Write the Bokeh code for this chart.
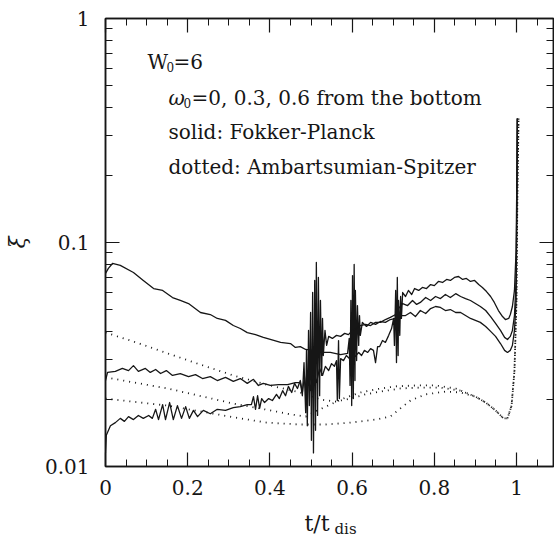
from bokeh.plotting import figure
from bokeh.models import Label, LinearAxis, LogAxis, FixedTicker, Range1d
from bokeh.layouts import column
from bokeh.embed import file_html
from bokeh.resources import INLINE

# ---------------- data ----------------
x_ticks = [0, 0.2, 0.4, 0.6, 0.8, 1.0]
x_tick_labels = ["0", "0.2", "0.4", "0.6", "0.8", "1"]
x_minor = [0.05, 0.1, 0.15, 0.25, 0.3, 0.35, 0.45, 0.5, 0.55, 0.65, 0.7, 0.75,
           0.85, 0.9, 0.95, 1.05]
y_ticks = [0.01, 0.1, 1.0]
y_tick_labels = ["0.01", "0.1", "1"]
y_minor = [0.02, 0.03, 0.04, 0.05, 0.06, 0.07, 0.08, 0.09,
           0.2, 0.3, 0.4, 0.5, 0.6, 0.7, 0.8, 0.9]

# Fokker-Planck (solid) curves
fp_a_t = [0, 0.007, 0.017, 0.036, 0.068, 0.092, 0.117, 0.139, 0.163, 0.182, 0.202, 0.231,
          0.255, 0.272, 0.292, 0.311, 0.328, 0.345, 0.365, 0.384, 0.401, 0.426, 0.450, 0.462,
          0.474, 0.487, 0.504, 0.523, 0.547, 0.572, 0.589,
          0.593, 0.595, 0.597, 0.599, 0.601, 0.603, 0.605, 0.607, 0.608, 0.611, 0.613, 0.616,
          0.618, 0.620, 0.625, 0.635, 0.645, 0.657, 0.669, 0.681, 0.693, 0.706, 0.718,
          0.730, 0.742, 0.754, 0.766, 0.779, 0.791, 0.803, 0.815, 0.827, 0.839, 0.852, 0.864,
          0.876, 0.888, 0.900, 0.912, 0.925, 0.937, 0.949, 0.961, 0.971, 0.978, 0.985, 0.990,
          0.995, 0.999, 1.001, 1.002]
fp_a_xi = [0.0727, 0.0766, 0.0806, 0.0790, 0.0735, 0.0677, 0.0623, 0.0611, 0.0568, 0.0551, 0.0534, 0.0487,
           0.0477, 0.0458, 0.0449, 0.0426, 0.0413, 0.0396, 0.0388, 0.0377, 0.0369, 0.0358, 0.0354, 0.0340,
           0.0343, 0.0333, 0.0330, 0.0323, 0.0323, 0.0316, 0.0320,
           0.0373, 0.0230, 0.0551, 0.0187, 0.0712, 0.0201, 0.0798, 0.0242, 0.0611, 0.0297, 0.0523, 0.0347,
           0.0472, 0.0385, 0.0440, 0.0422, 0.0440, 0.0431, 0.0444, 0.0440, 0.0453, 0.0458, 0.0472,
           0.0472, 0.0487, 0.0467, 0.0497, 0.0482, 0.0507, 0.0518, 0.0513, 0.0497, 0.0502, 0.0487, 0.0487,
           0.0472, 0.0458, 0.0449, 0.0440, 0.0422, 0.0401, 0.0381, 0.0354, 0.0330, 0.0323, 0.0330, 0.0347,
           0.0405, 0.0551, 0.154, 0.358]

fp_b_t = [0, 0.005, 0.024, 0.041, 0.056, 0.068, 0.080, 0.097, 0.109, 0.122, 0.134, 0.148, 0.163,
          0.182, 0.202, 0.219, 0.236, 0.255, 0.272, 0.292, 0.311, 0.328, 0.345, 0.360, 0.372,
          0.384, 0.401, 0.421, 0.443, 0.462, 0.474,
          0.479, 0.483, 0.487, 0.489, 0.491, 0.494, 0.496, 0.499, 0.501, 0.504, 0.506, 0.509,
          0.511, 0.513, 0.516, 0.518, 0.521, 0.523, 0.526, 0.528, 0.530, 0.534, 0.538, 0.543,
          0.552, 0.562, 0.572, 0.582, 0.591, 0.601, 0.611, 0.620, 0.633, 0.645, 0.657, 0.669,
          0.681, 0.693, 0.706, 0.713, 0.723,
          0.735, 0.747, 0.757, 0.766, 0.779, 0.791, 0.803, 0.815, 0.827, 0.839, 0.852, 0.864,
          0.876, 0.888, 0.900, 0.912, 0.925, 0.937, 0.949, 0.961, 0.971, 0.978, 0.985, 0.990,
          0.995, 0.999, 1.001, 1.002]
fp_b_xi = [0.0242, 0.0263, 0.0266, 0.0274, 0.0268, 0.0282, 0.0266, 0.0274, 0.0263, 0.0271, 0.0260, 0.0268, 0.0255,
           0.0260, 0.0252, 0.0257, 0.0247, 0.0252, 0.0242, 0.0250, 0.0240, 0.0247, 0.0235, 0.0245, 0.0230,
           0.0235, 0.0230, 0.0232, 0.0232, 0.0237, 0.0237,
           0.0207, 0.0291, 0.0174, 0.0330, 0.0152, 0.0405, 0.0187, 0.0487, 0.0131, 0.0598, 0.0115, 0.0677,
           0.0145, 0.0814, 0.0169, 0.0698, 0.0207, 0.0551, 0.0255, 0.0458, 0.0313, 0.0405, 0.0347, 0.0381,
           0.0373, 0.0385, 0.0381, 0.0393, 0.0388, 0.0405, 0.0413, 0.0426, 0.0431, 0.0426, 0.0440, 0.0440,
           0.0453, 0.0463, 0.0477, 0.0507, 0.0534,
           0.0523, 0.0551, 0.0529, 0.0540, 0.0568, 0.0551, 0.0574, 0.0562, 0.0586, 0.0568, 0.0591, 0.0574,
           0.0562, 0.0551, 0.0534, 0.0518, 0.0497, 0.0467, 0.0435, 0.0405, 0.0377, 0.0369, 0.0381, 0.0405,
           0.0472, 0.0677, 0.1706, 0.358]

fp_c_t = [0, 0.002, 0.012, 0.024, 0.036, 0.046, 0.056, 0.068, 0.080, 0.092, 0.105, 0.114, 0.122,
          0.129, 0.139, 0.146, 0.156, 0.165, 0.175, 0.185, 0.195, 0.204, 0.214, 0.224, 0.238,
          0.255, 0.272, 0.292, 0.311, 0.328, 0.345, 0.355, 0.360, 0.365, 0.370, 0.375, 0.380,
          0.387, 0.397, 0.406, 0.416, 0.423, 0.431, 0.438, 0.445, 0.453, 0.460, 0.467, 0.474,
          0.479, 0.484, 0.489, 0.494, 0.499, 0.506, 0.513, 0.521, 0.528, 0.535, 0.543, 0.550,
          0.557, 0.562, 0.564, 0.567, 0.569, 0.572, 0.579, 0.586, 0.594, 0.601, 0.608, 0.616,
          0.623, 0.630, 0.638, 0.645, 0.652, 0.657, 0.662, 0.667, 0.674, 0.681, 0.689, 0.696,
          0.701, 0.703, 0.706, 0.708, 0.710, 0.712, 0.713, 0.716, 0.718, 0.720, 0.723,
          0.730, 0.737, 0.745, 0.752, 0.762, 0.771, 0.781, 0.791, 0.800, 0.810, 0.820, 0.830,
          0.839, 0.849, 0.859, 0.869, 0.878, 0.888, 0.898, 0.908, 0.917, 0.927, 0.937, 0.946,
          0.956, 0.966, 0.973, 0.981, 0.985, 0.990, 0.995, 0.999, 1.001, 1.002]
fp_c_xi = [0.0115, 0.0138, 0.0152, 0.0157, 0.0164, 0.0159, 0.0167, 0.0162, 0.0169, 0.0164, 0.0169, 0.0164, 0.0180,
           0.0162, 0.0189, 0.0162, 0.0193, 0.0162, 0.0187, 0.0164, 0.0185, 0.0164, 0.0178, 0.0167, 0.0178,
           0.0172, 0.0180, 0.0178, 0.0183, 0.0185, 0.0189, 0.0189, 0.0205, 0.0180, 0.0207, 0.0182, 0.0201,
           0.0193, 0.0201, 0.0197, 0.0210, 0.0201, 0.0218, 0.0207, 0.0228, 0.0214, 0.0235, 0.0223, 0.0242,
           0.0214, 0.0252, 0.0205, 0.0263, 0.0218, 0.0268, 0.0237, 0.0274, 0.0255, 0.0280, 0.0268, 0.0288,
           0.0280, 0.0297, 0.0197, 0.0365, 0.0201, 0.0303, 0.0297, 0.0313, 0.0303, 0.0320, 0.0310, 0.0323,
           0.0313, 0.0330, 0.0323, 0.0336, 0.0330, 0.0291, 0.0343, 0.0343, 0.0365, 0.0358, 0.0385, 0.0413,
           0.0458, 0.0347, 0.0611, 0.0291, 0.0698, 0.0313, 0.0551, 0.0385, 0.0574, 0.0458, 0.0598,
           0.0574, 0.0611, 0.0586, 0.0623, 0.0611, 0.0630, 0.0623, 0.0649, 0.0642, 0.0670, 0.0663, 0.0684,
           0.0677, 0.0698, 0.0705, 0.0684, 0.0691, 0.0670, 0.0677, 0.0649, 0.0630, 0.0604, 0.0574, 0.0540,
           0.0497, 0.0467, 0.0453, 0.0458, 0.0477, 0.0518, 0.0611, 0.0921, 0.2097, 0.358]

# Ambartsumian-Spitzer (dotted) curves; they share the same late-time tail
as_1_t = [0, 0.061, 0.151, 0.231, 0.311, 0.392, 0.474, 0.523, 0.560, 0.596, 0.633, 0.669,
          0.718, 0.766, 0.815, 0.864, 0.900]
as_1_xi = [0.0396, 0.0365, 0.0320, 0.0285, 0.0255, 0.0232, 0.0214, 0.0199, 0.0195, 0.0201, 0.0210, 0.0216,
           0.0223, 0.0225, 0.0225, 0.0218, 0.0205]
as_2_t = [0, 0.151, 0.311, 0.401, 0.450, 0.487, 0.516, 0.547, 0.584, 0.620, 0.657, 0.706,
          0.754, 0.803, 0.852, 0.900]
as_2_xi = [0.0250, 0.0223, 0.0191, 0.0178, 0.0171, 0.0167, 0.0178, 0.0189, 0.0203, 0.0214, 0.0221, 0.0228,
           0.0230, 0.0230, 0.0223, 0.0205]
as_3_t = [0, 0.151, 0.311, 0.392, 0.474, 0.535, 0.596, 0.657, 0.693, 0.718, 0.742, 0.779,
          0.827, 0.864, 0.900]
as_3_xi = [0.0201, 0.0187, 0.0166, 0.0157, 0.0154, 0.0154, 0.0157, 0.0162, 0.0167, 0.0182, 0.0197, 0.0210,
           0.0216, 0.0214, 0.0205]
as_tail_t = [0.925, 0.949, 0.968, 0.978, 0.988, 0.995, 1.000, 1.002, 1.005]
as_tail_xi = [0.0193, 0.0178, 0.0164, 0.0164, 0.0187, 0.0268, 0.0551, 0.154, 0.358]

# ---------------- main figure ----------------
W = 554
H_MAIN, H_FOOT = 500, 38
BL, BR, BT, BB = 105, 1, 18, 34

p = figure(width=W, height=H_MAIN, x_range=Range1d(0.0, 1.09), y_range=Range1d(0.01, 1.0),
           y_axis_type="log", output_backend="svg", toolbar_location=None,
           min_border_left=BL, min_border_right=BR, min_border_top=BT, min_border_bottom=BB)
p.xgrid.visible = False
p.ygrid.visible = False
p.background_fill_color = "white"
p.border_fill_color = "white"
p.outline_line_color = "#111111"
p.outline_line_width = 1.5

INK = "#161616"
FONT = "DejaVu Serif"

def style_axis(ax, show_labels):
    ax.axis_line_color = INK
    ax.axis_line_width = 1.5
    ax.major_tick_line_color = INK
    ax.minor_tick_line_color = INK
    ax.major_tick_line_width = 1.2
    ax.minor_tick_line_width = 1.0
    ax.major_tick_in = 14
    ax.major_tick_out = 0
    ax.minor_tick_in = 7
    ax.minor_tick_out = 0
    if show_labels:
        ax.major_label_text_font = FONT
        ax.major_label_text_font_size = "20px"
        ax.major_label_text_color = INK
    else:
        ax.major_label_text_font_size = "0px"
        ax.major_label_standoff = 0

xa = p.xaxis[0]
xa.ticker = FixedTicker(ticks=x_ticks, minor_ticks=x_minor)
xa.major_label_overrides = {t: s for t, s in zip(x_ticks, x_tick_labels)}
style_axis(xa, True)
xa.major_label_standoff = 13

ya = p.yaxis[0]
ya.ticker = FixedTicker(ticks=y_ticks, minor_ticks=y_minor)
ya.major_label_overrides = {t: s for t, s in zip(y_ticks, y_tick_labels)}
style_axis(ya, True)
ya.major_label_standoff = 16
ya.axis_label = "ξ"
ya.axis_label_text_font = FONT
ya.axis_label_text_font_style = "italic"
ya.axis_label_text_font_size = "22px"
ya.axis_label_text_color = INK
ya.axis_label_standoff = 12

top = LinearAxis(ticker=FixedTicker(ticks=x_ticks, minor_ticks=x_minor))
style_axis(top, False)
top.major_label_overrides = {t: "" for t in x_ticks}
p.add_layout(top, "above")
right = LogAxis(ticker=FixedTicker(ticks=y_ticks, minor_ticks=y_minor))
style_axis(right, False)
right.major_label_overrides = {t: "" for t in y_ticks}
p.add_layout(right, "right")

for tt, xx in [(fp_a_t, fp_a_xi), (fp_b_t, fp_b_xi), (fp_c_t, fp_c_xi)]:
    p.line(tt, xx, line_color=INK, line_width=1.3, line_join="round")

for tt, xx in [(as_1_t, as_1_xi), (as_2_t, as_2_xi), (as_3_t, as_3_xi)]:
    p.line(tt + as_tail_t, xx + as_tail_xi, line_color=INK, line_width=1.8,
           line_dash="1 5", line_cap="butt")

# Label screen units are measured from the frame's bottom-left corner (y upward).
def add_text(fig, frame_left, frame_bottom, px, py, s, size="20px", style="normal"):
    fig.add_layout(Label(x=px - frame_left, y=frame_bottom - py, x_units="screen", y_units="screen",
                         text=s, text_font=FONT, text_font_size=size,
                         text_font_style=style, text_color=INK, text_baseline="alphabetic",
                         text_align="left"))

FB = H_MAIN - BB
add_text(p, BL, FB, 147, 61, "W")
add_text(p, BL, FB, 166, 66, "0", size="12px")
add_text(p, BL, FB, 173, 61, "=6")
add_text(p, BL, FB, 168, 97, "ω", style="italic")
add_text(p, BL, FB, 183, 102, "0", size="12px")
add_text(p, BL, FB, 191, 97, "=0, 0.3, 0.6 from the bottom")
add_text(p, BL, FB, 168, 131, "solid: Fokker-Planck")
add_text(p, BL, FB, 168, 166, "dotted: Ambartsumian-Spitzer")

# ---------------- footer strip holding the x-axis title with its subscript ----------------
foot = figure(width=W, height=H_FOOT, x_range=Range1d(0, 1), y_range=Range1d(0, 1),
              output_backend="svg", toolbar_location=None,
              x_axis_location=None, y_axis_location=None,
              min_border_left=BL, min_border_right=BR, min_border_top=0, min_border_bottom=0)
foot.xgrid.visible = False
foot.ygrid.visible = False
foot.outline_line_color = None
foot.background_fill_color = "white"
foot.border_fill_color = "white"
add_text(foot, BL, H_MAIN + H_FOOT, 304, 523, "t/t", size="22px")
add_text(foot, BL, H_MAIN + H_FOOT, 334, 528, "dis", size="15px")

layout = column(p, foot, spacing=0)
open("out.html", "w").write(file_html(layout, INLINE))
